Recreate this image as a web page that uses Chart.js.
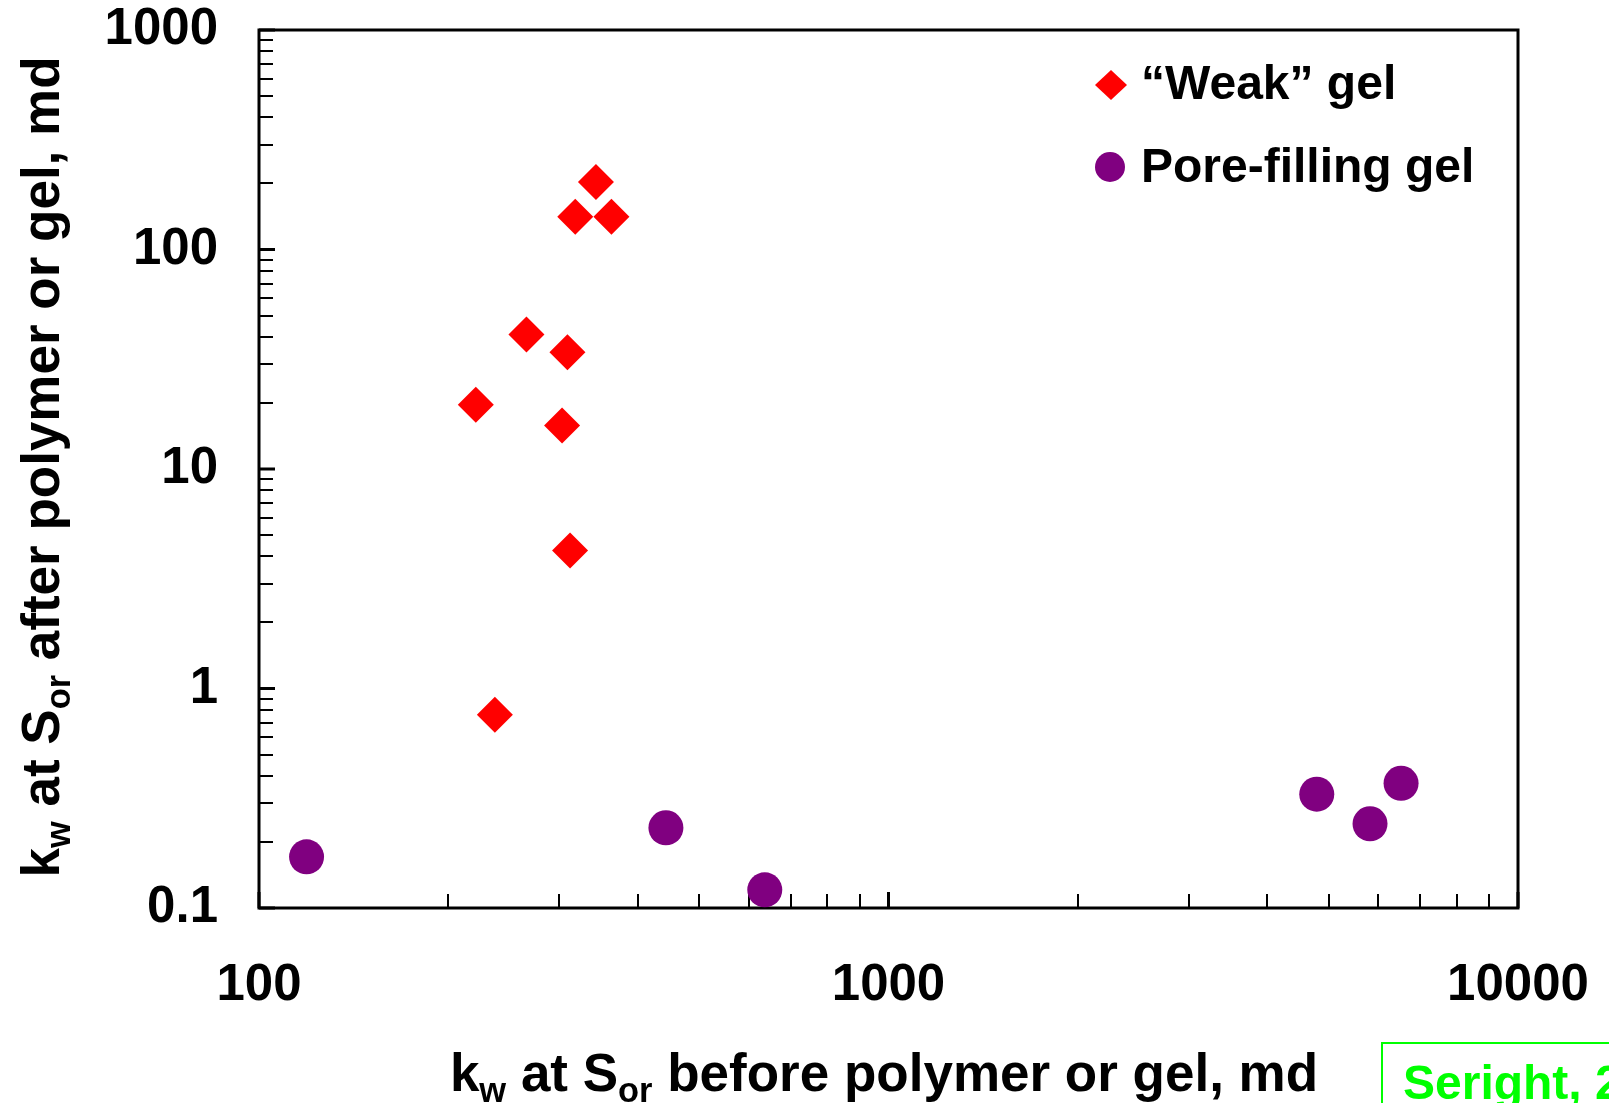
<!DOCTYPE html>
<html>
<head>
<meta charset="utf-8">
<script src="https://cdn.jsdelivr.net/npm/chart.js@4.4.1/dist/chart.umd.min.js"></script>
<style>
  html, body { margin: 0; padding: 0; background: #fff; }
</style>
</head>
<body>
<canvas id="kwChart" width="1609" height="1103"></canvas>
<script>
// kw at Sor before (x) and after (y) polymer or gel, md
const weakGelBefore = [343, 318, 363, 266, 309, 221, 303, 312, 237];
const weakGelAfter  = [203, 141, 141, 41, 34, 19.6, 15.8, 4.25, 0.76];
const poreGelBefore = [119, 443, 636, 4790, 5820, 6520];
const poreGelAfter  = [0.171, 0.232, 0.121, 0.33, 0.242, 0.37];

const xTicks = [100, 1000, 10000];
const yTicks = [0.1, 1, 10, 100, 1000];

const FONT = '"Liberation Sans", Arial, sans-serif';

function minorTicks(decades) {
  const out = [];
  for (let i = 0; i < decades.length - 1; i++) {
    for (let m = 2; m <= 9; m++) out.push(+(decades[i] * m).toPrecision(3));
  }
  return out;
}

// draws text with subscript parts, starting at x (baseline y)
function richText(ctx, parts, size, x, y, measureOnly) {
  let w = 0;
  parts.forEach(p => {
    const s = p.sub ? size * 0.65 : size;
    ctx.font = 'bold ' + s + 'px ' + FONT;
    if (!measureOnly) ctx.fillText(p.t, x + w, y + (p.sub ? size * 0.2 : 0));
    w += ctx.measureText(p.t).width;
  });
  return w;
}

// no extra room for labels, the layout padding does it
function noScalePadding(s) {
  s.paddingTop = 0; s.paddingBottom = 0;
  s.paddingLeft = 0; s.paddingRight = 0;
}

const framePlugin = {
  id: 'framePlugin',
  beforeDatasetsDraw(chart) {
    const ctx = chart.ctx;
    const a = chart.chartArea;
    const xs = chart.scales.x, ys = chart.scales.y;
    ctx.save();
    ctx.strokeStyle = '#000';
    ctx.lineWidth = 3;
    ctx.strokeRect(a.left, a.top, a.right - a.left, a.bottom - a.top);

    // inward tick marks
    ctx.lineWidth = 2;
    minorTicks(yTicks).forEach(v => {
      const py = Math.round(ys.getPixelForValue(v));
      ctx.beginPath(); ctx.moveTo(a.left, py); ctx.lineTo(a.left + 14, py); ctx.stroke();
    });
    minorTicks(xTicks).forEach(v => {
      const px = Math.round(xs.getPixelForValue(v));
      ctx.beginPath(); ctx.moveTo(px, a.bottom); ctx.lineTo(px, a.bottom - 14); ctx.stroke();
    });
    ctx.lineWidth = 3;
    yTicks.forEach(v => {
      const py = ys.getPixelForValue(v);
      ctx.beginPath(); ctx.moveTo(a.left, py); ctx.lineTo(a.left + 16, py); ctx.stroke();
    });
    xTicks.forEach(v => {
      const px = xs.getPixelForValue(v);
      ctx.beginPath(); ctx.moveTo(px, a.bottom); ctx.lineTo(px, a.bottom - 16); ctx.stroke();
    });
    ctx.restore();
  },
  afterDraw(chart) {
    const ctx = chart.ctx;
    ctx.save();
    ctx.fillStyle = '#000';
    ctx.textBaseline = 'alphabetic';
    ctx.textAlign = 'left';

    // x axis title
    const xParts = [{t: 'k'}, {t: 'w', sub: true}, {t: ' at S'}, {t: 'or', sub: true}, {t: ' before polymer or gel, md'}];
    const xw = richText(ctx, xParts, 53, 0, 0, true);
    richText(ctx, xParts, 53, 884 - xw / 2, 1091);

    // y axis title (rotated)
    const yParts = [{t: 'k'}, {t: 'w', sub: true}, {t: ' at S'}, {t: 'or', sub: true}, {t: ' after polymer or gel, md'}];
    ctx.save();
    ctx.translate(59, 467);
    ctx.rotate(-Math.PI / 2);
    const yw = richText(ctx, yParts, 53, 0, 0, true);
    richText(ctx, yParts, 53, -yw / 2, 0);
    ctx.restore();

    // legend
    ctx.fillStyle = '#FF0000';
    ctx.beginPath();
    ctx.moveTo(1111 - 16, 85); ctx.lineTo(1111, 85 - 15);
    ctx.lineTo(1111 + 16, 85); ctx.lineTo(1111, 85 + 15);
    ctx.closePath(); ctx.fill();
    ctx.fillStyle = '#800080';
    ctx.beginPath(); ctx.arc(1110, 167, 15, 0, Math.PI * 2); ctx.fill();
    ctx.fillStyle = '#000';
    ctx.font = 'bold 48px ' + FONT;
    ctx.textBaseline = 'middle';
    ctx.fillText('\u201cWeak\u201d gel', 1141, 86);
    ctx.fillText('Pore-filling gel', 1141, 169);

    // source box
    ctx.strokeStyle = '#00FF00';
    ctx.lineWidth = 2;
    ctx.strokeRect(1382, 1043, 400, 200);
    ctx.fillStyle = '#00FF00';
    ctx.textBaseline = 'alphabetic';
    ctx.fillText('Seright, 2010', 1403, 1099);
    ctx.restore();
  }
};

const tickFont = { family: FONT, size: 51, weight: 'bold' };

new Chart(document.getElementById('kwChart'), {
  type: 'scatter',
  data: {
    datasets: [{
      label: '\u201cWeak\u201d gel',
      data: weakGelBefore.map((x, i) => ({ x: x, y: weakGelAfter[i] })),
      pointStyle: 'rectRot',
      pointRadius: 18,
      pointHoverRadius: 18,
      backgroundColor: '#FF0000',
      borderWidth: 0
    }, {
      label: 'Pore-filling gel',
      data: poreGelBefore.map((x, i) => ({ x: x, y: poreGelAfter[i] })),
      pointStyle: 'circle',
      pointRadius: 17.5,
      pointHoverRadius: 17.5,
      backgroundColor: '#800080',
      borderWidth: 0
    }]
  },
  options: {
    responsive: false,
    animation: false,
    devicePixelRatio: 1,
    layout: { padding: { top: 30, right: 91, left: 0, bottom: 0 } },
    plugins: { legend: { display: false }, tooltip: { enabled: false } },
    events: [],
    scales: {
      x: {
        type: 'logarithmic',
        position: 'bottom',
        min: 100,
        max: 10000,
        grid: { display: false, drawTicks: false },
        border: { display: false },
        afterBuildTicks: s => { s.ticks = xTicks.map(v => ({ value: v })); },
        afterFit: s => { s.height = 195; noScalePadding(s); },
        ticks: {
          font: tickFont, color: '#000', padding: 47,
          autoSkip: false, maxRotation: 0,
          callback: v => String(v)
        }
      },
      y: {
        type: 'logarithmic',
        min: 0.1,
        max: 1000,
        grid: { display: false, drawTicks: false },
        border: { display: false },
        afterBuildTicks: s => { s.ticks = yTicks.map(v => ({ value: v })); },
        afterFit: s => { s.width = 259; noScalePadding(s); },
        ticks: {
          font: tickFont, color: '#000', padding: 41,
          autoSkip: false,
          callback: v => String(v)
        }
      }
    }
  },
  plugins: [framePlugin]
});
</script>
</body>
</html>
